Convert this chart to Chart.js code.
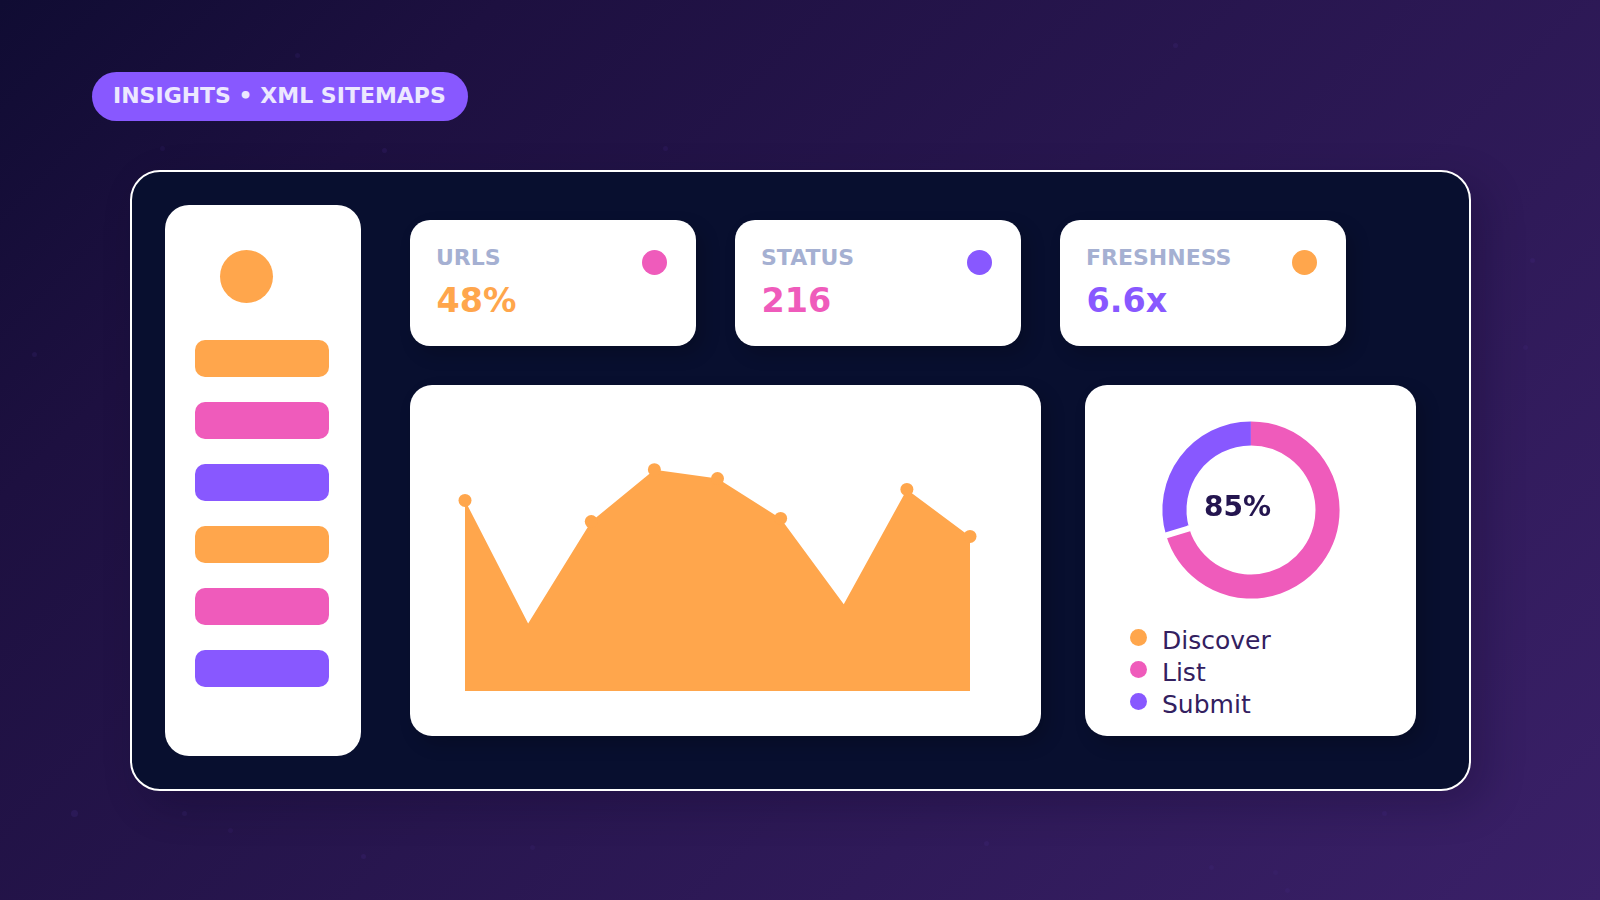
<!DOCTYPE html>
<html>
<head>
<meta charset="utf-8">
<title>Insights - XML Sitemaps</title>
<script src="https://cdn.jsdelivr.net/npm/chart.js@4"></script>
<style>
  * { box-sizing: border-box; }
  html, body { margin: 0; padding: 0; }
  body {
    position: relative;
    width: 1600px;
    height: 900px;
    overflow: hidden;
    font-family: "DejaVu Sans", sans-serif;
    background: linear-gradient(135deg, #100c33 0%, #1d1040 20%, #3a2068 100%);
  }
  body > *, .abs { position: absolute; }
  .specks {
    left: 0; top: 0; width: 5px; height: 5px; border-radius: 50%;
    box-shadow: 295px 53px 0 rgba(90,60,170,.12), 160px 146px 0 rgba(90,60,170,.1), 382px 148px 0 rgba(90,60,170,.14),
      72px 811px 0 1px rgba(90,60,170,.16), 182px 811px 0 rgba(90,60,170,.13), 228px 828px 0 rgba(90,60,170,.1),
      361px 854px 0 rgba(90,60,170,.14), 1382px 811px 0 rgba(90,60,170,.12), 1173px 43px 0 rgba(90,60,170,.13),
      663px 146px 0 rgba(90,60,170,.12), 32px 352px 0 rgba(90,60,170,.13), 1530px 258px 0 rgba(90,60,170,.12),
      1523px 345px 0 rgba(90,60,170,.1), 984px 841px 0 rgba(90,60,170,.13), 530px 845px 0 rgba(90,60,170,.1),
      1209px 865px 0 rgba(90,60,170,.1), 1285px 888px 0 rgba(90,60,170,.1), 1273px 870px 0 rgba(90,60,170,.08);
  }
  .badge {
    left: 92px; top: 72px; width: 376px; height: 49px;
    background: #8858ff; border-radius: 25px;
  }
  .badge span {
    position: absolute; left: 21px; top: 13px;
    font-size: 22px; font-weight: 700; line-height: 1; white-space: nowrap; color: #ece8ff;
  }
  .panel {
    left: 130px; top: 170px; width: 1341px; height: 621px;
    background: #080f2f; border: 2px solid #fff; border-radius: 30px;
    box-shadow: 14px 14px 40px rgba(8,5,30,.24);
  }
  .card { background: #fff; box-shadow: 7px 8px 18px rgba(0,0,0,.2); }
  .sidebar { left: 165px; top: 205px; width: 196px; height: 551px; border-radius: 24px; box-shadow: none; }
  .avatar { left: 220px; top: 249.5px; width: 53px; height: 53px; border-radius: 50%; background: #ffa64c; }
  .nav { left: 195px; width: 134px; height: 37px; border-radius: 10px; }
  .stat { top: 220px; width: 286px; height: 126px; border-radius: 20px; }
  .stat .label {
    position: absolute; left: 26px; top: 27px;
    font-size: 22px; font-weight: 700; line-height: 1; color: #a5b0d2; white-space: nowrap;
  }
  .stat .value {
    position: absolute; left: 26.5px; top: 63.6px;
    font-size: 33.4px; font-weight: 700; line-height: 1; white-space: nowrap;
  }
  .stat .dot { position: absolute; left: 231.8px; top: 29.8px; width: 25px; height: 25px; border-radius: 50%; }
  .area-card { left: 410px; top: 385px; width: 631px; height: 351px; border-radius: 22px; }
  .ring-card { left: 1085px; top: 385px; width: 331px; height: 351px; border-radius: 22px; }
  canvas { display: block; }
  #ringChart { left: 1151px; top: 410px; }
  .center-text {
    left: 1204px; top: 492.8px; font-size: 28px; font-weight: 700; line-height: 1; color: #24154f; white-space: nowrap;
  }
  .legend-dot { left: 1130px; width: 17px; height: 17px; border-radius: 50%; }
  .legend-text { left: 1162px; font-size: 25px; line-height: 1; color: #33205f; white-space: nowrap; }
</style>
</head>
<body>
  <div class="specks"></div>
  <div class="badge"><span>INSIGHTS • XML SITEMAPS</span></div>
  <div class="panel"></div>
  <div class="card sidebar"></div>
  <div class="avatar"></div>
  <div class="card area-card"><canvas id="areaChart" width="631" height="351"></canvas></div>
  <div class="card ring-card"></div>
  <canvas id="ringChart" width="200" height="200"></canvas>
  <div class="center-text" id="centerText"></div>

<script>
const ORANGE = '#ffa64c';
const PINK = '#ef5bbb';
const PURPLE = '#8858ff';

const statLabels = ['URLS', 'STATUS', 'FRESHNESS'];
const statValues = ['48%', '216', '6.6x'];
const statValueColors = [ORANGE, PINK, PURPLE];
const statDotColors = [PINK, PURPLE, ORANGE];
const statLefts = [410, 735, 1060];

const navColors = [ORANGE, PINK, PURPLE, ORANGE, PINK, PURPLE];

const areaLabels = ['1', '2', '3', '4', '5', '6', '7', '8', '9'];
const areaValues = [79.4, 28.1, 70.6, 92.2, 88.5, 71.9, 36.1, 84.0, 64.4];
// the two valleys have no dot in the picture
const areaPointRadius = [6.5, 0, 6.5, 6.5, 6.5, 6.5, 0, 6.5, 6.5];

const legendLabels = ['Discover', 'List', 'Submit'];
const legendColors = [ORANGE, PINK, PURPLE];

// ring runs clockwise from the white notch, notch last so it paints on top
const ringLabels = ['Submit', 'List', 'notch'];
const ringValues = [29.6, 70.4, 0.01];
const centerLabel = '85%';

navColors.forEach((color, i) => {
  const bar = document.createElement('div');
  bar.className = 'nav abs';
  bar.style.top = `${340 + i * 62}px`;
  bar.style.background = color;
  document.body.appendChild(bar);
});

statLabels.forEach((label, i) => {
  const card = document.createElement('div');
  card.className = 'card stat abs';
  card.style.left = `${statLefts[i]}px`;
  card.innerHTML = `<div class="label">${label}</div>
    <div class="value" style="color:${statValueColors[i]}">${statValues[i]}</div>
    <div class="dot" style="background:${statDotColors[i]}"></div>`;
  document.body.appendChild(card);
});

legendLabels.forEach((label, i) => {
  const dot = document.createElement('div');
  dot.className = 'legend-dot abs';
  dot.style.top = `${628.8 + i * 32}px`;
  dot.style.background = legendColors[i];
  const text = document.createElement('div');
  text.className = 'legend-text abs';
  text.style.top = `${628 + i * 32}px`;
  text.textContent = label;
  document.body.append(dot, text);
});

document.getElementById('centerText').textContent = centerLabel;

new Chart(document.getElementById('areaChart'), {
  type: 'line',
  data: {
    labels: areaLabels,
    datasets: [{
      data: areaValues,
      fill: 'origin',
      tension: 0,
      borderWidth: 0,
      borderColor: ORANGE,
      backgroundColor: ORANGE,
      pointRadius: areaPointRadius,
      pointBackgroundColor: ORANGE,
      pointBorderWidth: 0,
      clip: false,
    }],
  },
  options: {
    responsive: false,
    animation: false,
    layout: { padding: { left: 55, right: 71, top: 66, bottom: 45 } },
    plugins: { legend: { display: false }, tooltip: { enabled: false } },
    scales: {
      x: { display: false, offset: false },
      y: { display: false, min: 0, max: 100 },
    },
  },
});

new Chart(document.getElementById('ringChart'), {
  type: 'doughnut',
  data: {
    labels: ringLabels,
    datasets: [{
      data: ringValues,
      backgroundColor: [PURPLE, PINK, '#ffffff'],
      borderColor: '#ffffff',
      borderWidth: [0, 0, 6],
    }],
  },
  options: {
    responsive: false,
    animation: false,
    rotation: 253.4,
    radius: 88.6,
    cutout: '72.8%',
    plugins: { legend: { display: false }, tooltip: { enabled: false } },
  },
});
</script>
</body>
</html>
